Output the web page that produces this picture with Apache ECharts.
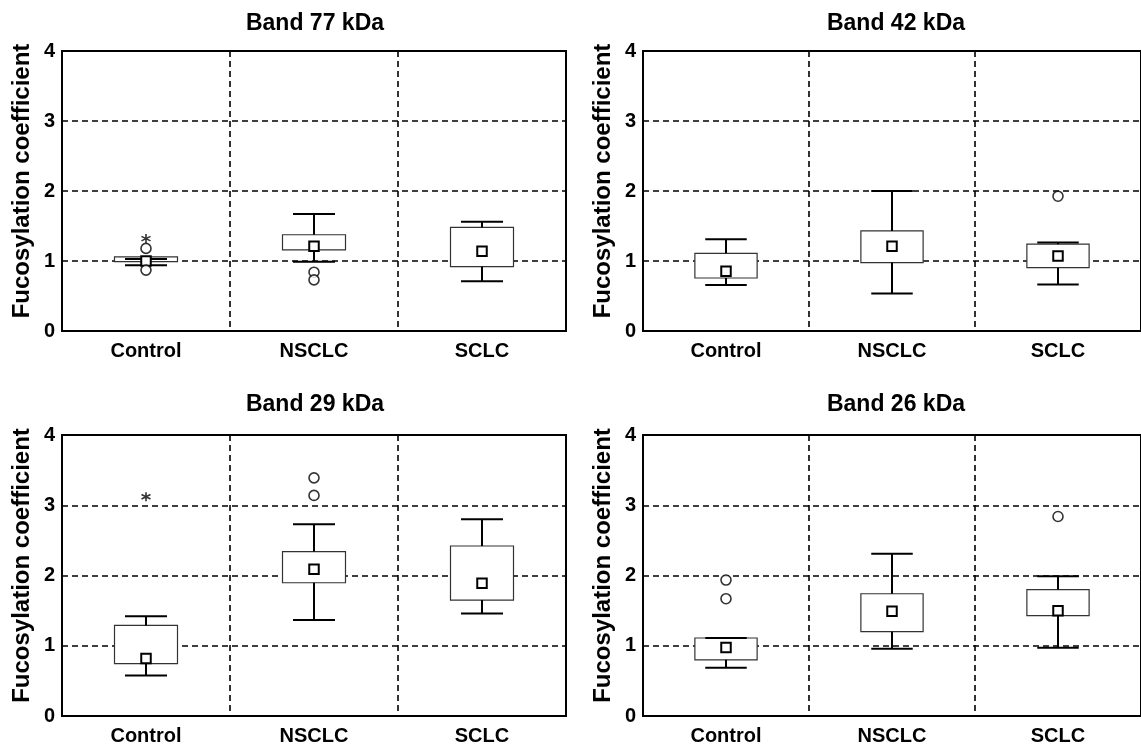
<!DOCTYPE html>
<html><head><meta charset="utf-8">
<script src="https://cdn.jsdelivr.net/npm/echarts/dist/echarts.min.js"></script>
<style>html,body{margin:0;padding:0;background:#fff}#c{width:1141px;height:746px}</style>
</head><body><div id="c"></div>
<script>
// ---- data ----
const categories = ['Control', 'NSCLC', 'SCLC'];
const yTickValues = [0, 1, 2, 3, 4];
const panelTitles = ['Band 77 kDa', 'Band 42 kDa', 'Band 29 kDa', 'Band 26 kDa'];
const yAxisTitle = 'Fucosylation coefficient';

// per category: [lower whisker, Q1, median, Q3, upper whisker]
const band77Box = [[0.94, 0.99, 1.00, 1.06, 1.03], [0.99, 1.16, 1.21, 1.375, 1.67], [0.71, 0.92, 1.14, 1.48, 1.56]];
const band77Outliers = [[0, 1.18], [0, 0.87], [1, 0.84], [1, 0.73]];
const band77Extremes = [[0, 1.32]];

const band42Box = [[0.656, 0.757, 0.853, 1.11, 1.31], [0.537, 0.977, 1.21, 1.43, 2.0], [0.666, 0.905, 1.07, 1.24, 1.265]];
const band42Outliers = [[2, 1.926]];
const band42Extremes = [];

const band29Box = [[0.578, 0.745, 0.82, 1.29, 1.42], [1.367, 1.897, 2.09, 2.34, 2.73], [1.46, 1.65, 1.89, 2.42, 2.80]];
const band29Outliers = [[1, 3.39], [1, 3.14]];
const band29Extremes = [[0, 3.12]];

const band26Box = [[0.686, 0.80, 0.975, 1.11, 1.11], [0.956, 1.20, 1.49, 1.74, 2.31], [0.97, 1.43, 1.50, 1.80, 1.99]];
const band26Outliers = [[0, 1.935], [0, 1.67], [2, 2.84]];
const band26Extremes = [];

const boxes = [band77Box, band42Box, band29Box, band26Box];
const outliers = [band77Outliers, band42Outliers, band29Outliers, band26Outliers];
const extremes = [band77Extremes, band42Extremes, band29Extremes, band26Extremes];

// ---- layout ----
const FONT = '"Liberation Sans", Arial, sans-serif';
const grids = [
  {left: 62, top: 51, width: 504, height: 280},
  {left: 643, top: 51, width: 504, height: 280},
  {left: 62, top: 435, width: 504, height: 281},
  {left: 643, top: 435, width: 504, height: 281}
];
const titlePos = [[315, 24], [896, 24], [315, 405], [896, 405]];

const chart = echarts.init(document.getElementById('c'), null, {renderer: 'canvas'});

function renderBox(params, api) {
  const cat = api.value(0);
  const lo = api.value(1), q1 = api.value(2), med = api.value(3), q3 = api.value(4), hi = api.value(5);
  const band = api.size([1, 0])[0];
  const pLo = api.coord([cat, lo]), pQ1 = api.coord([cat, q1]), pMed = api.coord([cat, med]);
  const pQ3 = api.coord([cat, q3]), pHi = api.coord([cat, hi]);
  const x = pLo[0];
  const bw = band * 0.375, cw = band * 0.25, ms = 9.5;
  const ls = {stroke: '#000', lineWidth: 2};
  return {
    type: 'group',
    children: [
      {type: 'rect', shape: {x: x - bw / 2, y: pQ3[1], width: bw, height: pQ1[1] - pQ3[1]},
        style: {fill: '#fff', stroke: '#333', lineWidth: 1.2}},
      {type: 'line', shape: {x1: x, y1: pQ3[1], x2: x, y2: pHi[1]}, style: ls},
      {type: 'line', shape: {x1: x, y1: pQ1[1], x2: x, y2: pLo[1]}, style: ls},
      {type: 'line', shape: {x1: x - cw / 2, y1: pHi[1], x2: x + cw / 2, y2: pHi[1]}, style: ls},
      {type: 'line', shape: {x1: x - cw / 2, y1: pLo[1], x2: x + cw / 2, y2: pLo[1]}, style: ls},
      {type: 'rect', shape: {x: x - ms / 2, y: pMed[1] - ms / 2, width: ms, height: ms},
        style: {fill: '#fff', stroke: '#000', lineWidth: 2}}
    ]
  };
}

const dashed = {type: [6, 4], color: '#000', width: 1.6};
const labelStyle = {color: '#000', fontWeight: 'bold', fontSize: 20, fontFamily: FONT};

const option = {
  animation: false,
  backgroundColor: '#fff',
  grid: grids.map(g => Object.assign({show: true, borderColor: '#000', borderWidth: 2, backgroundColor: 'transparent'}, g)),
  xAxis: grids.map((g, i) => ({
    gridIndex: i, type: 'category', data: categories, boundaryGap: true,
    axisLine: {lineStyle: {color: '#000', width: 2}},
    axisTick: {show: false},
    axisLabel: Object.assign({margin: 10}, labelStyle),
    splitLine: {show: true, lineStyle: dashed}
  })),
  yAxis: grids.map((g, i) => ({
    gridIndex: i, type: 'value', min: yTickValues[0], max: yTickValues[yTickValues.length - 1], interval: 1,
    axisLine: {show: true, lineStyle: {color: '#000', width: 2}},
    axisTick: {show: false},
    axisLabel: Object.assign({margin: 7}, labelStyle),
    splitLine: {show: true, lineStyle: dashed},
    name: yAxisTitle, nameLocation: 'middle', nameGap: 28,
    nameTextStyle: {color: '#000', fontWeight: 'bold', fontSize: 24, fontFamily: FONT, padding: [0, 0, 0, 20]}
  })),
  graphic: panelTitles.map((t, i) => ({
    type: 'text', x: titlePos[i][0], y: titlePos[i][1],
    style: {text: t, fill: '#000', font: 'bold 23px ' + FONT, align: 'center', verticalAlign: 'middle'}
  })),
  series: []
};

for (let i = 0; i < 4; i++) {
  option.series.push({
    type: 'custom', xAxisIndex: i, yAxisIndex: i,
    renderItem: renderBox,
    encode: {x: 0, y: [1, 2, 3, 4, 5]},
    data: boxes[i].map((d, k) => [k].concat(d)),
    z: 3
  });
  option.series.push({
    type: 'scatter', xAxisIndex: i, yAxisIndex: i,
    symbol: 'circle', symbolSize: 10,
    itemStyle: {color: '#fff', borderColor: '#000', borderWidth: 1.6},
    data: outliers[i], z: 4
  });
  option.series.push({
    type: 'scatter', xAxisIndex: i, yAxisIndex: i,
    symbol: 'path://M0,-5L0,5M-4.33,-2.5L4.33,2.5M-4.33,2.5L4.33,-2.5', symbolSize: 9,
    itemStyle: {color: 'none', borderColor: '#000', borderWidth: 1.6},
    data: extremes[i], z: 4
  });
}

chart.setOption(option);
</script>
</body></html>
